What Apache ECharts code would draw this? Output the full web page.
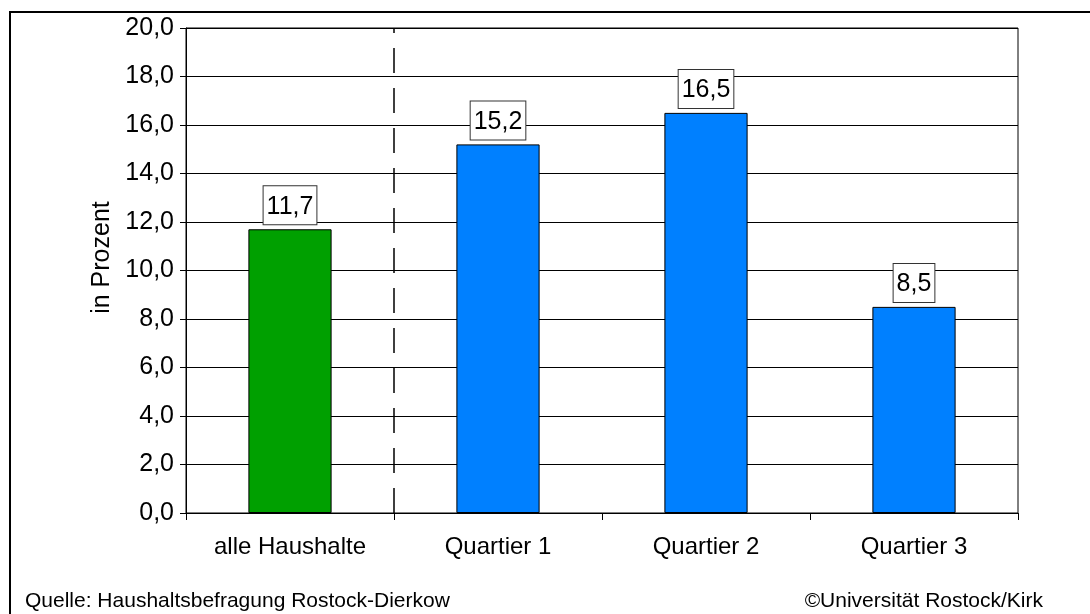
<!DOCTYPE html>
<html>
<head>
<meta charset="utf-8">
<script src="https://cdn.jsdelivr.net/npm/echarts@6/dist/echarts.min.js"></script>
<style>
  html, body { margin: 0; padding: 0; background: #fff; }
  #chart { width: 1090px; height: 614px; }
</style>
</head>
<body>
<div id="chart"></div>
<script>
// Anteil in Prozent je Gebiet
const categories = ['alle Haushalte', 'Quartier 1', 'Quartier 2', 'Quartier 3'];
const values = [11.7, 15.2, 16.5, 8.5];
const yTicks = { min: 0, max: 20, step: 2 };
const yTitle = 'in Prozent';
const sourceNote = 'Quelle: Haushaltsbefragung Rostock-Dierkow';
const creditNote = '\u00A9Universit\u00E4t Rostock/Kirk';
// Trennlinie zwischen Gesamtwert und Quartieren (Anzahl Kategorien links davon)
const separatorAfter = 1;

const FONT = '"Liberation Sans", Arial, sans-serif';
const GREEN = '#00a000';
const BLUE = '#0080ff';
const deComma = (v) => v.toFixed(1).replace('.', ',');

const chart = echarts.init(document.getElementById('chart'), null, { renderer: 'canvas' });

chart.setOption({
  animation: false,
  backgroundColor: '#fff',
  textStyle: { fontFamily: FONT, color: '#000' },
  grid: {
    left: 186, right: 72, top: 28, bottom: 101,
    show: true, borderColor: '#000', borderWidth: 1, backgroundColor: 'transparent'
  },
  xAxis: [
    {
      type: 'category',
      data: categories,
      boundaryGap: true,
      axisLine: { lineStyle: { color: '#000', width: 1 } },
      axisTick: { show: true, alignWithLabel: false, length: 7, lineStyle: { color: '#000' } },
      axisLabel: { color: '#000', fontFamily: FONT, fontSize: 24, margin: 22 },
      splitLine: { show: false }
    },
    {
      // hidden linear axis spanning the category slots, used for the separator
      type: 'value',
      min: 0, max: categories.length,
      show: false,
      position: 'bottom'
    }
  ],
  yAxis: {
    type: 'value',
    min: yTicks.min, max: yTicks.max, interval: yTicks.step,
    name: yTitle,
    nameLocation: 'middle',
    nameGap: 70,
    nameRotate: 90,
    nameTextStyle: { color: '#000', fontFamily: FONT, fontSize: 25, padding: [0, 0, 0, 26] },
    axisLine: { show: true, lineStyle: { color: '#000', width: 1 } },
    axisTick: { show: true, length: 6, lineStyle: { color: '#000' } },
    axisLabel: { color: '#000', fontFamily: FONT, fontSize: 25, margin: 12, formatter: (v) => deComma(v) },
    splitLine: { show: true, lineStyle: { color: '#000', width: 1 } }
  },
  series: [
    {
      type: 'bar',
      data: values,
      barWidth: '40%',
      itemStyle: {
        color: (p) => (p.dataIndex === 0 ? GREEN : BLUE),
        borderColor: '#000',
        borderWidth: 1
      },
      label: {
        show: true,
        position: 'top',
        distance: 5,
        formatter: (p) => deComma(p.value),
        color: '#000',
        fontFamily: FONT,
        fontSize: 25,
        lineHeight: 27,
        backgroundColor: '#fff',
        borderColor: '#333',
        borderWidth: 1,
        padding: [7, 3, 4, 3]
      }
    },
    {
      type: 'scatter',
      xAxisIndex: 1,
      data: [],
      silent: true,
      markLine: {
        silent: true,
        symbol: ['none', 'none'],
        label: { show: false },
        lineStyle: { color: '#000', width: 1.5, type: [25, 15] },
        data: [{ xAxis: separatorAfter }]
      }
    }
  ],
  graphic: [
    {
      type: 'rect',
      shape: { x: 10, y: 12, width: 1300, height: 1300 },
      style: { fill: 'transparent', stroke: '#000', lineWidth: 2 },
      silent: true,
      z: 10
    },
    {
      type: 'text',
      left: 25, top: 591,
      style: { text: sourceNote, fill: '#000', font: '21px ' + FONT }
    },
    {
      type: 'text',
      right: 47, top: 591,
      style: { text: creditNote, fill: '#000', font: '21px ' + FONT }
    }
  ]
});
</script>
</body>
</html>
